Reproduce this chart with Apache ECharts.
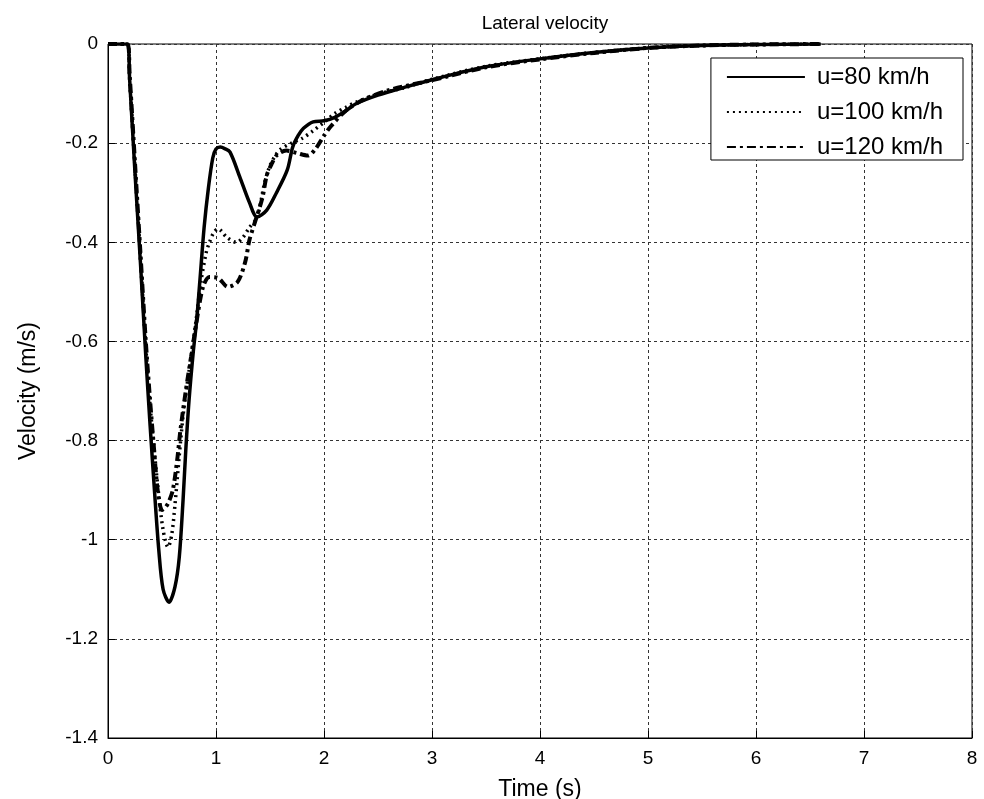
<!DOCTYPE html>
<html>
<head>
<meta charset="utf-8">
<script src="https://cdn.jsdelivr.net/npm/echarts@6/dist/echarts.min.js"></script>
<style>html,body{margin:0;padding:0;background:#fff;}#c{width:984px;height:799px;}</style>
</head>
<body>
<div id="c"></div>
<script>
const seriesNames = ['u=80 km/h', 'u=100 km/h', 'u=120 km/h'];
const xTicks = [0, 1, 2, 3, 4, 5, 6, 7, 8];
const yTicks = [-1.4, -1.2, -1, -0.8, -0.6, -0.4, -0.2, 0];

const time80 = [0, 0.18, 0.2, 0.25, 0.30, 0.35, 0.39, 0.43, 0.47, 0.51, 0.565, 0.62, 0.66, 0.695, 0.72, 0.75, 0.79, 0.82, 0.85, 0.89, 0.93, 0.97, 1.0, 1.04, 1.08, 1.13, 1.22, 1.31, 1.38, 1.47, 1.56, 1.66, 1.71, 1.76, 1.81, 1.90, 2.0, 2.1, 2.2, 2.3, 2.5, 2.75, 3.0, 3.5, 4.0, 4.5, 5.0, 5.5, 6.0, 6.6];
const vel80 = [0, 0, -0.07, -0.26, -0.44, -0.63, -0.77, -0.90, -1.02, -1.10, -1.126, -1.095, -1.035, -0.92, -0.82, -0.72, -0.62, -0.56, -0.48, -0.37, -0.29, -0.23, -0.212, -0.208, -0.211, -0.218, -0.268, -0.32, -0.349, -0.335, -0.30, -0.254, -0.208, -0.185, -0.170, -0.157, -0.155, -0.148, -0.135, -0.12, -0.103, -0.087, -0.072, -0.046, -0.030, -0.017, -0.008, -0.003, -0.001, 0];

const time100 = [0, 0.18, 0.2, 0.25, 0.30, 0.35, 0.39, 0.42, 0.46, 0.51, 0.556, 0.59, 0.62, 0.66, 0.70, 0.75, 0.79, 0.82, 0.86, 0.91, 0.94, 0.98, 1.02, 1.1, 1.19, 1.25, 1.31, 1.38, 1.45, 1.5, 1.55, 1.6, 1.7, 1.8, 1.9, 2.0, 2.1, 2.2, 2.3, 2.5, 2.75, 3.0, 3.5, 4.0, 4.5, 5.0, 5.5, 6.0, 6.6];
const vel100 = [0, 0, -0.07, -0.25, -0.43, -0.61, -0.73, -0.80, -0.89, -0.98, -1.015, -0.99, -0.93, -0.83, -0.74, -0.66, -0.60, -0.55, -0.48, -0.42, -0.40, -0.38, -0.373, -0.39, -0.40, -0.39, -0.37, -0.35, -0.28, -0.245, -0.225, -0.212, -0.20, -0.19, -0.175, -0.158, -0.14, -0.128, -0.117, -0.101, -0.088, -0.071, -0.045, -0.030, -0.017, -0.008, -0.003, -0.001, 0];

const time120 = [0, 0.18, 0.2, 0.25, 0.30, 0.35, 0.39, 0.42, 0.46, 0.50, 0.53, 0.56, 0.60, 0.64, 0.67, 0.72, 0.77, 0.82, 0.88, 0.94, 1.02, 1.11, 1.2, 1.27, 1.31, 1.36, 1.43, 1.47, 1.52, 1.56, 1.65, 1.75, 1.85, 1.92, 2.0, 2.06, 2.2, 2.36, 2.6, 3.0, 3.5, 4.0, 4.5, 5.0, 5.5, 6.0, 6.6];
const vel120 = [0, 0, -0.06, -0.24, -0.42, -0.60, -0.72, -0.80, -0.90, -0.94, -0.935, -0.925, -0.90, -0.84, -0.78, -0.70, -0.63, -0.56, -0.49, -0.47, -0.472, -0.49, -0.48, -0.44, -0.395, -0.36, -0.31, -0.265, -0.24, -0.225, -0.215, -0.22, -0.225, -0.212, -0.185, -0.167, -0.135, -0.113, -0.093, -0.073, -0.047, -0.031, -0.018, -0.008, -0.003, -0.001, 0];

const zip = (t, v) => t.map((x, i) => [x, v[i]]);
const font = '"Liberation Sans", Arial, sans-serif';

const chart = echarts.init(document.getElementById('c'), null, {renderer: 'canvas'});
const gridLine = {show: true, lineStyle: {color: '#333', width: 1, type: [3, 3]}};
chart.setOption({
  animation: false,
  backgroundColor: '#fff',
  title: {
    text: 'Lateral velocity', left: 540, top: 9, textAlign: 'center',
    textStyle: {fontFamily: font, fontSize: 19, fontWeight: 'normal', color: '#000'}
  },
  grid: {left: 108, right: 12, top: 44, bottom: 61, show: true, borderColor: '#000', borderWidth: 1,
         backgroundColor: 'transparent', containLabel: false, outerBoundsMode: 'none'},
  legend: {
    data: seriesNames, orient: 'vertical', right: 21, top: 58,
    backgroundColor: '#fff', borderColor: '#000', borderWidth: 1,
    padding: [7, 20, 1, 15], itemGap: 11, itemWidth: 78, itemHeight: 22,
    itemStyle: {opacity: 0},
    textStyle: {fontFamily: font, fontSize: 24, color: '#000', padding: [0, 0, 0, 7]}
  },
  xAxis: {
    type: 'value', min: 0, max: 8, interval: 1,
    name: 'Time (s)', nameLocation: 'middle', nameGap: 40,
    nameTextStyle: {fontFamily: font, fontSize: 23, color: '#000'},
    axisLine: {show: true, onZero: false, lineStyle: {color: '#000'}},
    axisTick: {show: true, inside: true, length: 7, lineStyle: {color: '#000'}},
    axisLabel: {fontFamily: font, fontSize: 19, color: '#000', margin: 11, formatter: v => String(v)},
    splitLine: gridLine
  },
  yAxis: {
    type: 'value', min: -1.4, max: 0, interval: 0.2,
    name: 'Velocity (m/s)', nameLocation: 'middle', nameGap: 68,
    nameTextStyle: {fontFamily: font, fontSize: 23, color: '#000'},
    axisLine: {show: true, onZero: false, lineStyle: {color: '#000'}},
    axisTick: {show: true, inside: true, length: 7, lineStyle: {color: '#000'}},
    axisLabel: {fontFamily: font, fontSize: 19, color: '#000', margin: 10, formatter: v => String(Math.round(v * 10) / 10)},
    splitLine: gridLine
  },
  series: [
    {name: seriesNames[0], type: 'line', data: zip(time80, vel80), smooth: 0.3, showSymbol: false, symbol: 'none',
     lineStyle: {color: '#000', width: 3.5, type: 'solid'}, itemStyle: {color: '#000'}, z: 3},
    {name: seriesNames[1], type: 'line', data: zip(time100, vel100), smooth: 0.3, showSymbol: false, symbol: 'none',
     lineStyle: {color: '#000', width: 3.5, type: [2, 4]}, itemStyle: {color: '#000'}, z: 4},
    {name: seriesNames[2], type: 'line', data: zip(time120, vel120), smooth: 0.3, showSymbol: false, symbol: 'none',
     lineStyle: {color: '#000', width: 4, type: [9, 4, 3, 4]}, itemStyle: {color: '#000'}, z: 5}
  ]
});
</script>
</body>
</html>
